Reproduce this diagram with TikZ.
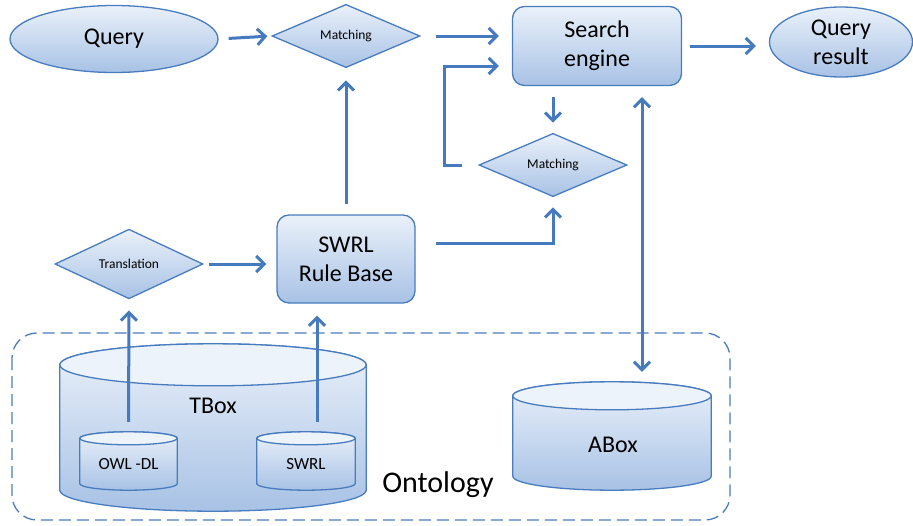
\documentclass[tikz,border=0pt]{standalone}
\usepackage{fontspec}
\setmainfont{Carlito}
\usetikzlibrary{shapes, arrows.meta, positioning, calc}
\definecolor{linkblue}{RGB}{70,122,190}
\definecolor{edgeblue}{RGB}{72,124,190}
\definecolor{boxtop}{RGB}{234,241,250}
\definecolor{boxbottom}{RGB}{168,194,229}
\definecolor{boxcap}{RGB}{236,243,251}

% cylinder drawn over a named rectangle node: #1 node, #2 cap radius (pt)
\newcommand\drum[2]{%
  \path[shaded] let \p1=(#1.north west), \p2=(#1.south east), \n1={(\x2-\x1)/2} in
    (\x1,{\y1-#2pt}) -- (\x1,{\y2+#2pt})
    arc[start angle=180, end angle=360, x radius=\n1, y radius=#2pt]
    -- (\x2,{\y1-#2pt})
    arc[start angle=0, end angle=180, x radius=\n1, y radius=#2pt] -- cycle;
  \path[draw=edgeblue, line width=1.3pt, fill=boxcap] let \p1=(#1.north west), \p2=(#1.south east), \n1={(\x2-\x1)/2} in
    ({\x1+\n1},{\y1-#2pt}) ellipse[x radius=\n1, y radius=#2pt];
}

\begin{document}
\begin{tikzpicture}[x=1pt, y=-1pt,
  shaded/.style={draw=edgeblue, line width=1.3pt, top color=boxtop, bottom color=boxbottom},
  oval/.style={shaded, ellipse, inner sep=0pt, align=center, font=\fontsize{24}{29}\selectfont},
  decision/.style={shaded, diamond, inner sep=0pt, font=\fontsize{13.5}{15}\selectfont},
  process/.style={shaded, rectangle, rounded corners=12pt, align=center, font=\fontsize{24}{29}\selectfont},
  store/.style={rectangle, inner sep=0pt},
  link/.style={draw=linkblue, line width=3pt, -{Straight Barb[length=8pt,width=16pt]}},
]
\useasboundingbox (0,0) rectangle (913,525);

% query side
\node[oval, minimum width=208pt, minimum height=67pt] (query) at (114,39) {Query};
\node[decision, minimum width=148pt, minimum height=61pt] (match1) at (346,36) {Matching};
\node[process, minimum width=169pt, minimum height=79pt] (search) at (597,46) {Search\\engine};
\node[oval, minimum width=143pt, minimum height=70pt] (result) at (841,42) {Query\\result};
\node[decision, minimum width=148pt, minimum height=60pt] (match2) at (553,165) {Matching};

% rules
\node[decision, minimum width=148pt, minimum height=60pt] (trans) at (129,264) {Translation};
\node[process, minimum width=138pt, minimum height=88pt] (rules) at (346,259) {SWRL\\Rule Base};

% ontology
\draw[edgeblue, line width=1.3pt, dash pattern=on 12pt off 6pt, rounded corners=25pt]
  (12,333) rectangle (730,520);
\node[store, minimum width=306pt, minimum height=167pt] (tbox) at (213,427.5) {};
\drum{tbox}{21}
\node[font=\fontsize{24}{29}\selectfont] (tboxtext) at (213,406) {TBox};
\node[store, minimum width=97pt, minimum height=58pt] (owl) at (128.5,461) {};
\drum{owl}{6.5}
\node[font=\fontsize{17}{20}\selectfont] (owltext) at (128.5,464.5) {OWL -DL};
\node[store, minimum width=98pt, minimum height=58pt] (swrl) at (306,461) {};
\drum{swrl}{6.5}
\node[font=\fontsize{17}{20}\selectfont] (swrltext) at (306,464.5) {SWRL};
\node[store, minimum width=198pt, minimum height=108pt] (abox) at (612,436) {};
\drum{abox}{14}
\node[font=\fontsize{24}{29}\selectfont] (aboxtext) at (613,444.5) {ABox};
\node[font=\fontsize{30}{36}\selectfont, anchor=base] (onto) at (438,492) {Ontology};

% connectors
\coordinate (rbfoot) at ($(swrl.north)+(11,0)$);
\coordinate (abfoot) at ($(search.south)+(45,0)$);
\draw[link, shorten <=10pt, shorten >=4pt] (query.east) -- (match1.west);
\draw[link, shorten <=15pt, shorten >=13pt] (match1.east) -- (match1.east -| search.west);
\draw[link, shorten <=8pt, shorten >=13pt] (search.east) -- (search.east -| result.west);
\draw[link, shorten <=11pt, shorten >=10pt] (search.south -| match2.north) -- (match2.north);
\draw[link, shorten <=16pt, shorten >=13pt] (match2.west) -- ++(-34,0) |- ($(search.west)+(0,20)$);
\draw[link, shorten <=20pt, shorten >=10pt] ($(rules.east)+(0,-16)$) -| (match2.south);
\draw[link, shorten <=10pt, shorten >=12pt] (rules.north) -- (match1.south);
\draw[link, shorten <=5pt, shorten >=10pt] (trans.east) -- (trans.east -| rules.west);
\draw[link, shorten <=10pt, shorten >=11pt] (owl.north) -- (trans.south);
\draw[link, shorten <=10pt, shorten >=12pt] (rbfoot) -- (rbfoot |- rules.south);
\draw[link, {Straight Barb[length=8pt,width=16pt]}-{Straight Barb[length=8pt,width=16pt]}, shorten <=11pt, shorten >=10pt]
  (abfoot) -- (abfoot |- abox.north);
\end{tikzpicture}
\end{document}
